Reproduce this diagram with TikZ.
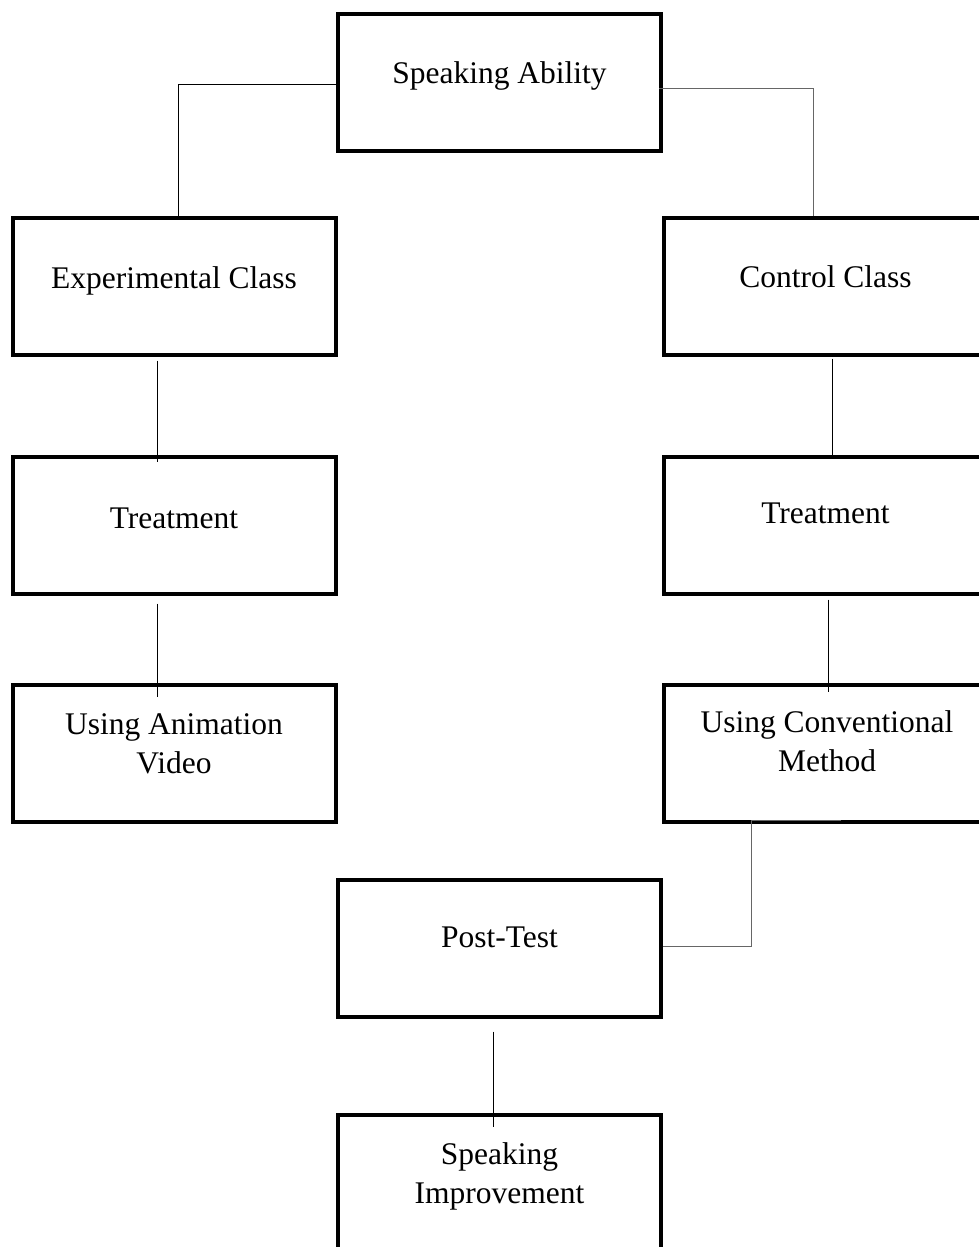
\documentclass[tikz,border=0pt]{standalone}
\usepackage{fontspec}
\setmainfont{Liberation Serif}
\usepackage{tikz}
\tikzstyle{block}=[draw,line width=4pt,minimum width=323pt,minimum height=137pt,inner sep=0pt]
\tikzstyle{box text}=[anchor=base,align=center,inner sep=0pt]
\tikzstyle{link}=[draw,line width=1pt,-]
\tikzstyle{grey link}=[link,draw=black!60]

\begin{document}
\begin{tikzpicture}[x=1pt,y=-1pt,font=\fontsize{31.5}{39}\selectfont]
    \useasboundingbox (0,0) rectangle (979,1247);
    \clip (0,0) rectangle (979,1247);

    % Boxes
    \foreach \pos/\name in {{(499.5,82.5)/spk}, {(174,286)/exp}, {(825.5,286)/ctl},
                            {(174,525)/trtL}, {(825.5,525)/trtR}, {(174,753)/anim},
                            {(825.5,753)/conv}, {(499.5,948)/post}, {(499.5,1183.5)/impr}}
        \node[block] (\name) at \pos {};

    % Texts (base = last line)
    \foreach \pos/\name/\txt in {{(499.5,83)/spk/Speaking Ability}, {(174,288)/exp/Experimental Class},
                                 {(825.5,287)/ctl/Control Class}, {(174,528)/trtL/Treatment},
                                 {(825.5,523)/trtR/Treatment}, {(174,773)/anim/{Using Animation\\Video}},
                                 {(827,771)/conv/{Using Conventional\\Method}}, {(499.5,947)/post/Post-Test},
                                 {(499.5,1203)/impr/{Speaking\\Improvement}}}
        \node[box text] (\name-t) at \pos {\txt};

    % Links
    \path[link] ([yshift=-1.5pt]spk.west) -| ([xshift=4pt]exp.north);
    \path[grey link] ([shift={(-4,5.5)}]spk.east) -| ([xshift=-12.5pt]ctl.north);
    \path[link] ([shift={(-17,4)}]exp.south) -- ([shift={(-17,7)}]trtL.north);
    \path[link] ([shift={(-17,8)}]trtL.south) -- ([shift={(-17,14)}]anim.north);
    \path[link] ([shift={(6.5,2)}]ctl.south) -- ([shift={(6.5,2)}]trtR.north);
    \path[link] ([shift={(2.5,4)}]trtR.south) -- ([shift={(2.5,9)}]conv.north);
    \path[grey link] ([shift={(15.5,-3)}]conv.south) -- ([shift={(-74.5,-3)}]conv.south)
        |- ([shift={(0,-2)}]post.east);
    \path[link] ([shift={(-6.5,13)}]post.south) -- ([shift={(-6.5,14)}]impr.north);

\end{tikzpicture}
\end{document}
